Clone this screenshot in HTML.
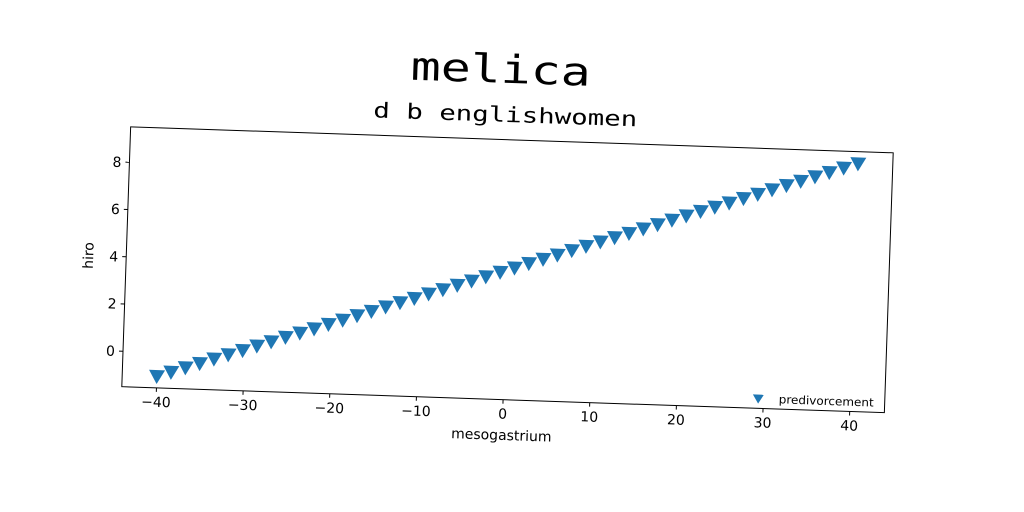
<!DOCTYPE html>
<html><head><meta charset="utf-8"><style>
html,body{margin:0;padding:0;background:#fff;}
svg{display:block;}
text{font-family:"DejaVu Sans","Liberation Sans",sans-serif;fill:#000;}
</style></head><body>
<svg id="chart" width="1024" height="512" xmlns="http://www.w3.org/2000/svg">
<g id="fig" transform="rotate(1.95 507.5 269.75)">
<text x="494" y="83" text-anchor="middle" textLength="180" lengthAdjust="spacingAndGlyphs" style="font-family:'DejaVu Sans Mono','Liberation Mono',monospace;font-size:39px">melica</text>
<text x="500" y="122" text-anchor="middle" textLength="264" lengthAdjust="spacingAndGlyphs" style="font-family:'DejaVu Sans Mono','Liberation Mono',monospace;font-size:21px">d b englishwomen</text>
<rect x="126" y="139.75" width="763" height="260" fill="none" stroke="#000" stroke-width="1"/>
<g id="xticks"></g>
<g id="yticks"></g>
<g id="marks"></g>
<text x="507" y="440" text-anchor="middle" font-size="14">mesogastrium</text>
<text transform="translate(93 269.75) rotate(-90)" text-anchor="middle" font-size="14">hiro</text>
<g>
<path d="M757 386 L768 386 L762.5 395 Z" fill="#1f77b4"/>
<text x="783" y="394" textLength="95" lengthAdjust="spacingAndGlyphs" font-size="11.5">predivorcement</text>
</g>
</g>
</svg>
<script>
const xValues=[-40,-38.37,-36.73,-35.10,-33.47,-31.84,-30.20,-28.57,-26.94,-25.31,-23.67,-22.04,-20.41,-18.78,-17.14,-15.51,-13.88,-12.24,-10.61,-8.98,-7.35,-5.71,-4.08,-2.45,-0.82,0.82,2.45,4.08,5.71,7.35,8.98,10.61,12.24,13.88,15.51,17.14,18.78,20.41,22.04,23.67,25.31,26.94,28.57,30.20,31.84,33.47,35.10,36.73,38.37,40];
const yValues=[-1,-0.80,-0.59,-0.39,-0.18,0.02,0.22,0.43,0.63,0.84,1.04,1.24,1.45,1.65,1.86,2.06,2.27,2.47,2.67,2.88,3.08,3.29,3.49,3.69,3.90,4.10,4.31,4.51,4.71,4.92,5.12,5.33,5.53,5.73,5.94,6.14,6.35,6.55,6.76,6.96,7.16,7.37,7.57,7.78,7.98,8.18,8.39,8.59,8.80,9];
const xTicks=[-40,-30,-20,-10,0,10,20,30,40];
const yTicks=[0,2,4,6,8];
const NS="http://www.w3.org/2000/svg";
const L=126,R=889,T=139.75,B=399.75;
const xmin=Math.min(...xValues),xmax=Math.max(...xValues),ymin=Math.min(...yValues),ymax=Math.max(...yValues);
const xm=(xmax-xmin)*0.05,ym=(ymax-ymin)*0.05;
const sx=v=>L+(v-(xmin-xm))/((xmax+xm)-(xmin-xm))*(R-L);
const sy=v=>B-(v-(ymin-ym))/((ymax+ym)-(ymin-ym))*(B-T);
function mk(tag,attrs,parent){const e=document.createElementNS(NS,tag);for(const k in attrs)e.setAttribute(k,attrs[k]);parent.appendChild(e);return e;}
const fmt=v=>v<0?"\u2212"+(-v):String(v);
const gx=document.getElementById('xticks');
xTicks.forEach(t=>{
 const x=sx(t);
 const l=mk('line',{x1:x,x2:x,y1:B,y2:B+4,stroke:'#000'},gx);
 
 
 const tx=mk('text',{x:x,y:B+19,'text-anchor':'middle','font-size':14},gx);
 
 
 tx.textContent=fmt(t);
});
const gy=document.getElementById('yticks');
yTicks.forEach(t=>{
 const y=sy(t);
 const l=mk('line',{x1:L-4,x2:L,y1:y,y2:y,stroke:'#000'},gy);
 
 
 const tx=mk('text',{x:L-8,y:y+5,'text-anchor':'end','font-size':14},gy);
 
 
 tx.textContent=fmt(t);
});
const gm=document.getElementById('marks');
xValues.forEach((v,i)=>{
 const x=sx(v),y=sy(yValues[i]);
 const p=mk('path',{d:`M${x-8} ${y-6} L${x+8} ${y-6} L${x} ${y+8} Z`,fill:'#1f77b4'},gm);
 
 
});
</script>
</body></html>
